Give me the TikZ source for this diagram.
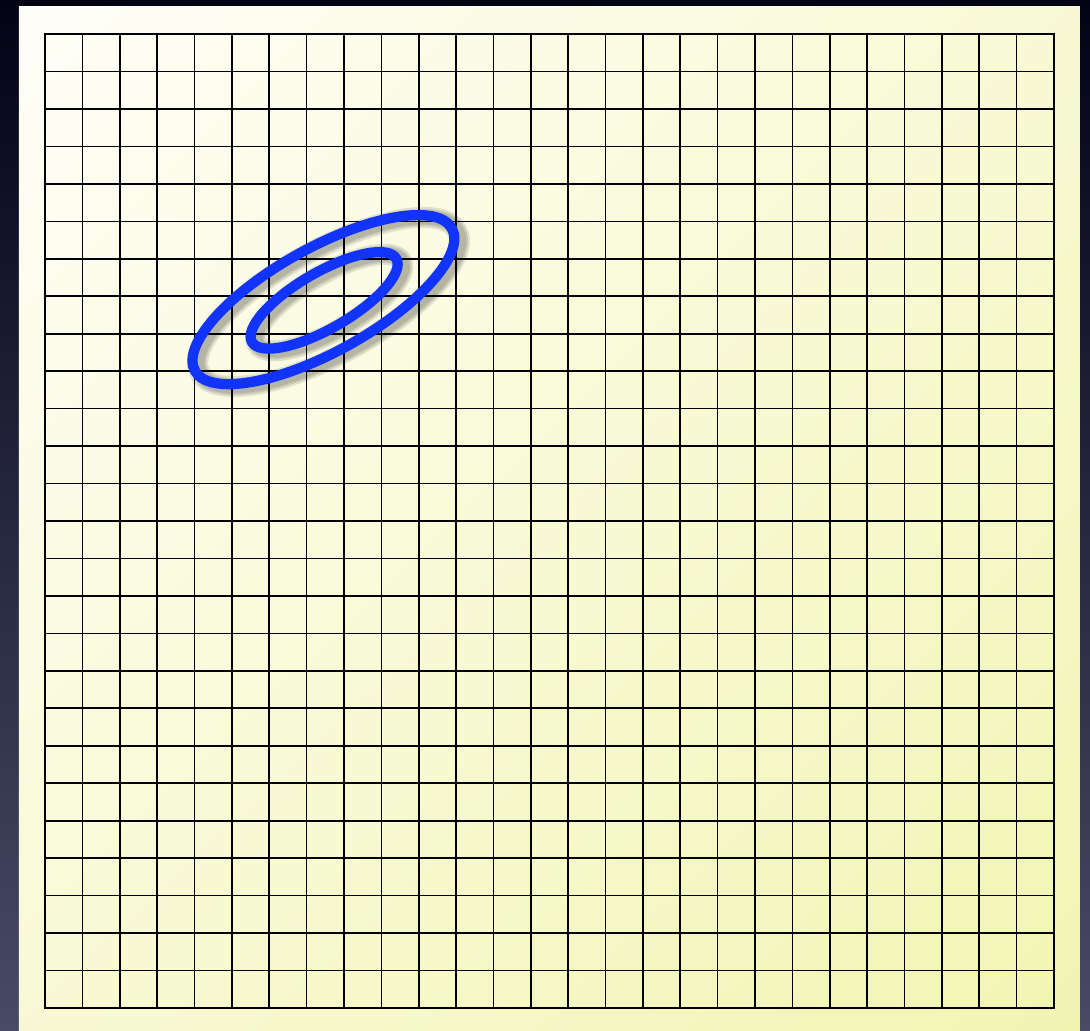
\documentclass[tikz,border=0pt]{standalone}
\usepackage{xcolor}
\usetikzlibrary{backgrounds,shadings}

\definecolor{deskTop}{RGB}{3,3,22}
\definecolor{deskBottom}{RGB}{72,75,102}
\definecolor{paperLight}{RGB}{254,254,248}
\definecolor{paperMid}{RGB}{248,249,212}
\definecolor{paperDark}{RGB}{241,245,178}
\definecolor{ringBlue}{RGB}{18,52,250}

\begin{document}
\begin{tikzpicture}[
        x=1cm, y=1.0024cm,
        gridline/.style={draw=black, line width=1.25pt, line cap=rect},
        ring/.style={draw=ringBlue, line width=7.8pt},
        ringshadow/.style={draw=black, opacity=0.1}
    ]
        \useasboundingbox (-1.204,-0.614) rectangle (27.964,26.909);

        % Backdrop and paper
        \begin{scope}[on background layer]
            \shade[top color=deskTop, bottom color=deskBottom] (-1.204,-0.614) rectangle (27.964,26.909);
            \shade[upper left=paperLight, upper right=paperMid, lower left=paperMid, lower right=paperDark]
                (-0.696,-0.614) rectangle (27.696,26.748);
        \end{scope}

        % Grid
        \foreach \i in {0,...,27} \draw[gridline] (\i,0) -- (\i,26);
        \foreach \j in {0,...,26} \draw[gridline] (0,\j) -- (27,\j);

        % Soft shadows under the rings
        \foreach \w in {16,13,10.5} {
            \draw[ringshadow, line width=\w pt, rotate around={29:(7.45,18.91)}]
                (7.54,18.79) ellipse [x radius=3.93, y radius=1.39];
            \draw[ringshadow, line width=\w pt, rotate around={30:(7.47,18.89)}]
                (7.56,18.77) ellipse [x radius=2.23, y radius=0.75];
        }

        % Rings
        \draw[ring, rotate around={29:(7.45,18.91)}] (7.45,18.91) ellipse [x radius=3.93, y radius=1.39];
        \draw[ring, rotate around={30:(7.47,18.89)}] (7.47,18.89) ellipse [x radius=2.23, y radius=0.75];
    \end{tikzpicture}
\end{document}
